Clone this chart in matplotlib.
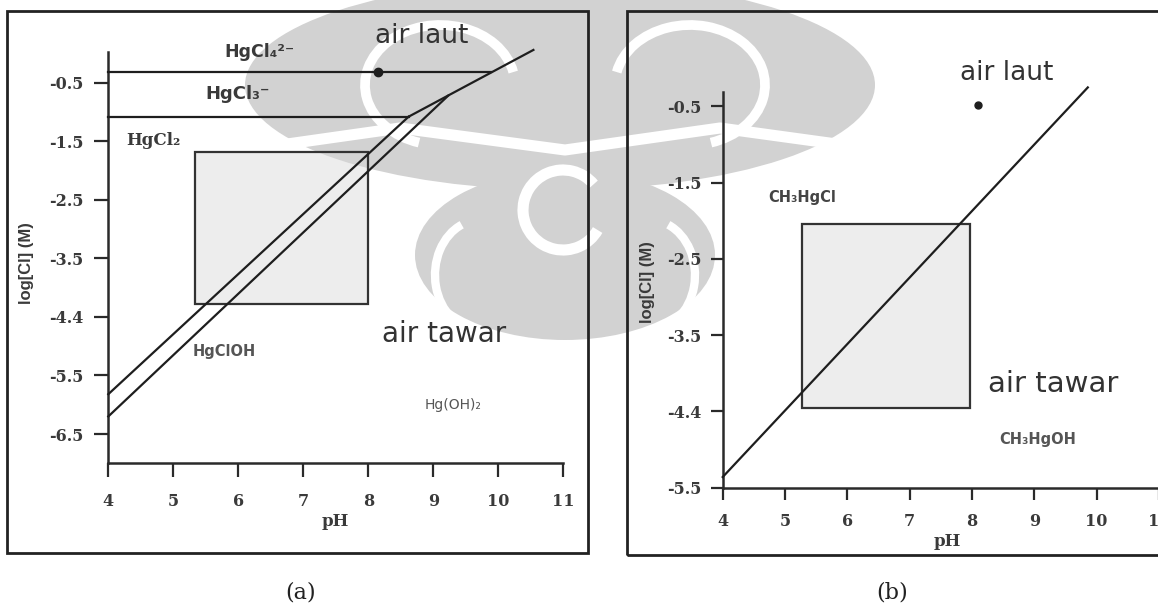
import numpy as np
import matplotlib.pyplot as plt
from matplotlib.patches import Rectangle, Ellipse, Arc


# --- shared pH axis ---
ph_ticks = [4, 5, 6, 7, 8, 9, 10, 11]
ph_labels = ['4', '5', '6', '7', '8', '9', '10', '11']


# --- (a) inorganic Hg: tick positions and printed labels ---
a_ytick_pos = [-0.5, -1.5, -2.5, -3.5, -4.5, -5.5, -6.5]
a_ytick_labels = ['-0.5', '-1.5', '-2.5', '-3.5', '-4.4', '-5.5', '-6.5']

# field boundaries, (pH, log[Cl]) end points
a_hgcl4_hgcl3_ph = [4.0, 9.89]
a_hgcl4_hgcl3_cl = [-0.31, -0.31]
a_hgcl3_hgcl2_ph = [4.0, 8.62]
a_hgcl3_hgcl2_cl = [-1.08, -1.08]
a_hgcl2_hgcloh_ph = [4.0, 8.62]
a_hgcl2_hgcloh_cl = [-5.82, -1.08]
a_hgcloh_hgoh2_ph = [4.0, 9.23]
a_hgcloh_hgoh2_cl = [-6.20, -0.72]
a_hgcl3_hgoh2_ph = [8.62, 10.54]
a_hgcl3_hgoh2_cl = [-1.08, 0.06]

# fresh water range (pH, log[Cl]) and sea water point
a_fresh_ph = [5.33, 8.00]
a_fresh_cl = [-4.28, -1.69]
a_sea_ph = 8.15
a_sea_cl = -0.31


# --- (b) methylmercury ---
b_ytick_pos = [-0.5, -1.5, -2.5, -3.5, -4.5, -5.5]
b_ytick_labels = ['-0.5', '-1.5', '-2.5', '-3.5', '-4.4', '-5.5']

b_boundary_ph = [4.0, 9.86]
b_boundary_cl = [-5.36, -0.25]

b_fresh_ph = [5.28, 7.97]
b_fresh_cl = [-4.46, -2.04]
b_sea_ph = 8.09
b_sea_cl = -0.48


W, H = 1158, 607
line_c = '#1e1e1e'
txt_c = '#3a3a3a'
wm_c = '#d2d2d2'

fig = plt.figure(figsize=(W / 100, H / 100), dpi=100)
fig.patch.set_facecolor('white')


# --- faint background emblem, in pixel coords (y down) ---
wm = fig.add_axes([0, 0, 1, 1], zorder=-1)
wm.set_xlim(0, W)
wm.set_ylim(H, 0)
wm.axis('off')
wm.add_patch(Ellipse((560, 85), 630, 210, color=wm_c, lw=0))
wm.add_patch(Ellipse((565, 255), 300, 170, color=wm_c, lw=0))
# white cut lines through the emblem
wm.plot([245, 400, 565, 720, 880], [150, 128, 150, 128, 150], color='white', lw=8,
        solid_capstyle='round')
wm.add_patch(Arc((563, 210), 80, 80, theta1=30, theta2=320, color='white', lw=8))
wm.add_patch(Arc((440, 85), 150, 120, theta1=110, theta2=350, color='white', lw=7))
wm.add_patch(Arc((690, 85), 150, 120, theta1=190, theta2=70, color='white', lw=7))
wm.add_patch(Arc((480, 275), 90, 110, theta1=90, theta2=250, color='white', lw=6))
wm.add_patch(Arc((650, 275), 90, 110, theta1=290, theta2=90, color='white', lw=6))


def px_rect(x0, y0, x1, y1):
    # rectangle given in pixel coords from the top-left corner
    return Rectangle((x0 / W, 1 - y1 / H), (x1 - x0) / W, (y1 - y0) / H,
                     transform=fig.transFigure, fill=False,
                     edgecolor='#222222', lw=2.0, zorder=0)


fig.add_artist(px_rect(7, 11, 588, 553))
fig.add_artist(px_rect(627, 11, 1170, 555))

fig.text(300.7 / W, 1 - 593 / H, '(a)', ha='center', va='center',
         fontsize=16, family='DejaVu Serif', color='#222222')
fig.text(892.5 / W, 1 - 593 / H, '(b)', ha='center', va='center',
         fontsize=16, family='DejaVu Serif', color='#222222')


def style_axes(ax, yticks, ylabels, tick_len, xpad, ypad):
    ax.set_facecolor('none')
    for s in ['top', 'right']:
        ax.spines[s].set_visible(False)
    for s in ['left', 'bottom']:
        ax.spines[s].set_linewidth(1.8)
        ax.spines[s].set_color('#2a2a2a')
    ax.set_xticks(ph_ticks, labels=ph_labels, fontsize=11.5, fontweight='bold',
                  family='DejaVu Serif', color=txt_c)
    ax.set_yticks(yticks, labels=ylabels, fontsize=11.5, fontweight='bold',
                  family='DejaVu Serif', color=txt_c)
    ax.tick_params(direction='out', length=tick_len, width=1.6, color='#2a2a2a')
    ax.tick_params(axis='x', pad=xpad)
    ax.tick_params(axis='y', pad=ypad)


def fresh_box(ax, xs, ys):
    ax.add_patch(Rectangle((xs[0], ys[0]), xs[1] - xs[0], ys[1] - ys[0],
                           facecolor='#d8d8d8', alpha=0.45, lw=0, zorder=1))
    ax.add_patch(Rectangle((xs[0], ys[0]), xs[1] - xs[0], ys[1] - ys[0],
                           fill=False, edgecolor='#333333', lw=1.6, zorder=2))


# --- panel (a) ---
ax_a = fig.add_axes([108.3 / W, 1 - 462.7 / H, 455 / W, 411 / H])
ax_a.set_xlim(4, 11)
ax_a.set_ylim(-6.99, 0.03)
style_axes(ax_a, a_ytick_pos, a_ytick_labels, 10, 12, 8)
fresh_box(ax_a, a_fresh_ph, a_fresh_cl)

for xs, ys in [(a_hgcl4_hgcl3_ph, a_hgcl4_hgcl3_cl),
               (a_hgcl3_hgcl2_ph, a_hgcl3_hgcl2_cl),
               (a_hgcl2_hgcloh_ph, a_hgcl2_hgcloh_cl),
               (a_hgcloh_hgoh2_ph, a_hgcloh_hgoh2_cl),
               (a_hgcl3_hgoh2_ph, a_hgcl3_hgoh2_cl)]:
    ax_a.plot(xs, ys, color=line_c, lw=1.6, zorder=3, clip_on=False)

ax_a.plot(a_sea_ph, a_sea_cl, 'o', color=line_c, ms=6, zorder=4)

ax_a.text(5.78, 0.03, 'HgCl₄²⁻', ha='left', va='center', fontsize=12.5,
          fontweight='bold', family='DejaVu Sans', color=txt_c, clip_on=False)
ax_a.text(5.49, -0.70, 'HgCl₃⁻', ha='left', va='center', fontsize=13,
          fontweight='bold', family='DejaVu Sans', color=txt_c)
ax_a.text(4.28, -1.48, 'HgCl₂', ha='left', va='center', fontsize=12,
          fontweight='bold', family='DejaVu Serif', color=txt_c)
ax_a.text(5.29, -5.09, 'HgClOH', ha='left', va='center', fontsize=10.5,
          fontweight='bold', family='DejaVu Sans', color='#555555')
ax_a.text(8.86, -6.00, 'Hg(OH)₂', ha='left', va='center', fontsize=10,
          family='DejaVu Sans', color='#555555')
ax_a.text(8.82, 0.18, 'air laut', ha='center', va='baseline', fontsize=19,
          family='DejaVu Sans', color='#333333', clip_on=False)
ax_a.text(9.16, -4.92, 'air tawar', ha='center', va='baseline', fontsize=20,
          family='DejaVu Sans', color='#333333')

ax_a.set_xlabel('pH', fontsize=12, fontweight='bold', family='DejaVu Serif',
                color=txt_c, labelpad=2)
ax_a.set_ylabel('log[Cl] (M)', fontsize=12, fontweight='bold',
                family='Liberation Sans', color=txt_c)
ax_a.yaxis.set_label_coords(-0.163, 0.485)


# --- panel (b) ---
ax_b = fig.add_axes([722.7 / W, 1 - 487.7 / H, 448.6 / W, 395.7 / H])
ax_b.set_xlim(4, 11.2)
ax_b.set_ylim(-5.5, -0.31)
style_axes(ax_b, b_ytick_pos, b_ytick_labels, 8.5, 10, 7)
fresh_box(ax_b, b_fresh_ph, b_fresh_cl)

ax_b.plot(b_boundary_ph, b_boundary_cl, color=line_c, lw=1.6, zorder=3, clip_on=False)
ax_b.plot(b_sea_ph, b_sea_cl, 'o', color=line_c, ms=5, zorder=4)

ax_b.text(4.73, -1.69, 'CH₃HgCl', ha='left', va='center', fontsize=10.5,
          fontweight='bold', family='DejaVu Sans', color='#444444')
ax_b.text(8.44, -4.87, 'CH₃HgOH', ha='left', va='center', fontsize=10.5,
          fontweight='bold', family='DejaVu Sans', color='#555555')
ax_b.text(8.55, -0.15, 'air laut', ha='center', va='baseline', fontsize=19,
          family='DejaVu Sans', color='#333333', clip_on=False)
ax_b.text(9.31, -4.24, 'air tawar', ha='center', va='baseline', fontsize=21,
          family='DejaVu Sans', color='#333333')

ax_b.set_xlabel('pH', fontsize=12, fontweight='bold', family='DejaVu Serif',
                color=txt_c, labelpad=2)
ax_b.set_ylabel('log[Cl] (M)', fontsize=12, fontweight='bold',
                family='Liberation Sans', color=txt_c)
ax_b.yaxis.set_label_coords(-0.151, 0.52)

fig.savefig('out.png', dpi=100, facecolor='white')
